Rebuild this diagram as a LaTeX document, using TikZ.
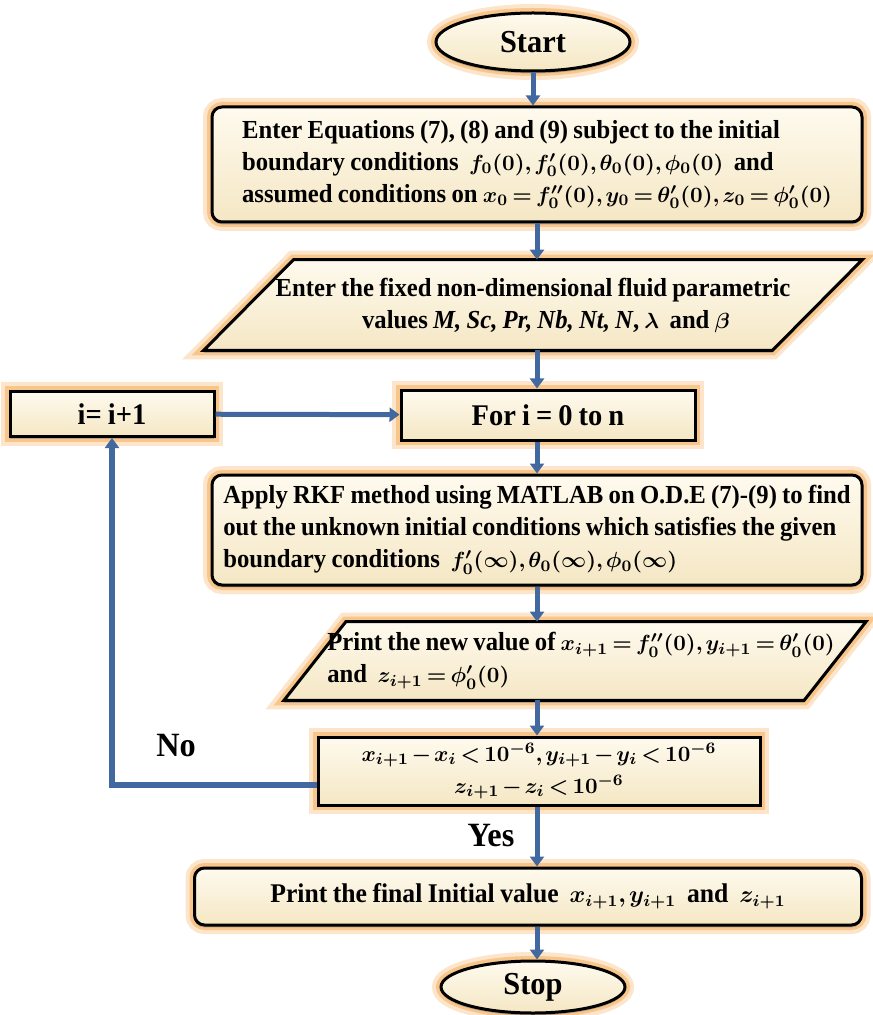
\documentclass[tikz,border=0pt]{standalone}
\usepackage{fontspec}
\setmainfont{Liberation Serif}[FakeStretch=0.95,WordSpace=0.85]
\usepackage{amsmath}
\DeclareMathSizes{13}{11}{8}{6}
\DeclareMathSizes{13.5}{11.5}{8.5}{6}
\thinmuskip=2mu
\medmuskip=2mu plus 1mu
\thickmuskip=3mu plus 2mu
\usetikzlibrary{arrows.meta,shapes.geometric,calc,backgrounds,shadows}
\definecolor{cream}{HTML}{FEFAEE}
\definecolor{creamdk}{HTML}{F5E7C4}
\definecolor{glow}{HTML}{F8C58A}
\definecolor{flow}{HTML}{41689F}
\newcommand{\fsz}[1]{\fontsize{#1}{16}\selectfont}

\begin{document}
\begin{tikzpicture}[x=0.5pt,y=-0.5pt,
  font=\fsz{13}\bfseries\boldmath,
  halo/.style={preaction={draw=glow!45,line width=9pt},preaction={draw=glow,line width=5pt},
    drop shadow={shadow xshift=0pt,shadow yshift=-1.2pt,fill=black!45,opacity=.6}},
  box/.style={halo,draw,line width=1.5pt,rounded corners=5pt,top color=cream,bottom color=creamdk,inner sep=0pt},
  sbox/.style={box,rounded corners=0pt},
  term/.style={box,ellipse,font=\fsz{16}\bfseries},
  io/.style={inner sep=0pt},
  ar/.style={draw=flow,line width=2.5pt,-{Triangle[width=7pt,length=5pt]}},
  lab/.style={font=\fsz{17}\bfseries}
]
\useasboundingbox (0,0) rectangle (872,1015);

\node[term,minimum width=97pt,minimum height=29pt] (start) at (533,42) {Start};

\node[box,minimum width=325pt,minimum height=57.5pt,align=left] (eqs) at (537,164.5)
  {Enter Equations (7), (8) and (9) subject to the initial\\
   boundary conditions \ $f_0(0), f_0'(0), \theta_0(0), \phi_0(0)$ \ and\\
   assumed conditions on $x_0=f_0''(0), y_0=\theta_0'(0), z_0=\phi_0'(0)$};

\node[io,minimum width=284pt,minimum height=45pt,align=center] (fluid) at (533,305)
  {Enter the fixed non-dimensional fluid parametric\\
   \quad values \textit{M, Sc, Pr, Nb, Nt, N}, $\lambda$ \ and $\beta$};

\node[sbox,minimum width=102pt,minimum height=22.5pt,font=\fsz{15}\bfseries] (incr) at (112,414) {i= i+1};
\node[sbox,minimum width=147pt,minimum height=25pt,font=\fsz{15}\bfseries] (loop) at (548,415) {For i = 0 to n};

\node[box,minimum width=325pt,minimum height=55pt,align=left] (rkf) at (537,530)
  {Apply RKF method using MATLAB on O.D.E (7)-(9) to find\\
   out the unknown initial conditions which satisfies the given\\
   boundary conditions \ $f_0'(\infty), \theta_0(\infty), \phi_0(\infty)$};

\node[io,minimum width=256pt,minimum height=39pt,align=left] (newval) at (575,661)
  {\hspace*{6pt}Print the new value of $x_{i+1}=f_0''(0), y_{i+1}=\theta_0'(0)$\\
   \hspace*{6pt}and \ $z_{i+1}=\phi_0'(0)$};

\node[sbox,minimum width=221pt,minimum height=34pt,align=center] (test) at (539,771)
  {$x_{i+1}-x_i<10^{-6}, y_{i+1}-y_i<10^{-6}$\\ $z_{i+1}-z_i<10^{-6}$};

\node[box,minimum width=333.5pt,minimum height=28.5pt,font=\fsz{13.5}\bfseries\boldmath] (final) at (528,896.5)
  {Print the final Initial value \ $x_{i+1}, y_{i+1}$ \ and \ $z_{i+1}$};

\node[term,minimum width=92pt,minimum height=26pt] (stop) at (533,987) {Stop};

\begin{scope}[on background layer]
\path[sbox] ($(fluid.north west)+(45,0)$) -- ($(fluid.north east)+(45,0)$)
  -- ($(fluid.south east)-(45,0)$) -- ($(fluid.south west)-(45,0)$) -- cycle;
\path[sbox] ($(newval.north west)+(31,0)$) -- ($(newval.north east)+(31,0)$)
  -- ($(newval.south east)-(31,0)$) -- ($(newval.south west)-(31,0)$) -- cycle;
\end{scope}

\coordinate (back) at (115,785);
\draw[ar] (start.south) -- (start.south |- eqs.north);
\draw[ar] (eqs.south) -- (eqs.south |- fluid.north);
\draw[ar] (eqs.south |- fluid.south) -- (eqs.south |- loop.north);
\draw[ar] (eqs.south |- loop.south) -- (rkf.north);
\draw[ar] (rkf.south) -- (rkf.south |- newval.north);
\draw[ar] (rkf.south |- newval.south) -- (rkf.south |- test.north);
\draw[ar] (rkf.south |- test.south) -- (rkf.south |- final.north);
\draw[ar] (rkf.south |- final.south) -- (rkf.south |- stop.north);
\draw[ar] (incr) -- (loop);
\draw[ar,line width=3pt] (test.west |- back) -| (incr.south);

\node[lab] (no) at (176,746) {No};
\node[lab] (yes) at (491,836) {Yes};
\end{tikzpicture}
\end{document}
